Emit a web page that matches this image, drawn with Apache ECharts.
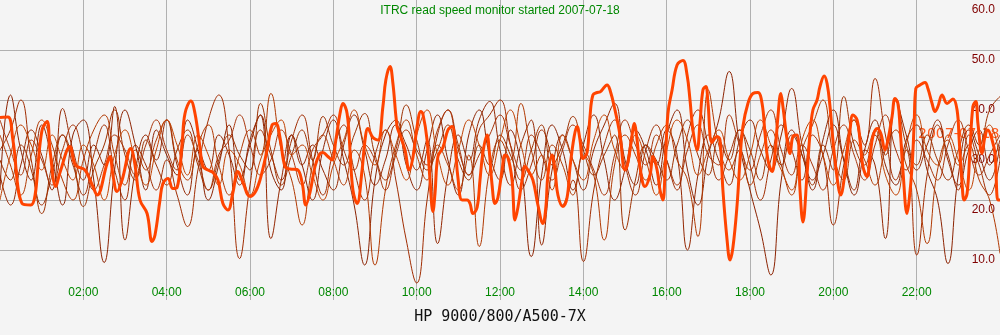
<!DOCTYPE html>
<html>
<head>
<meta charset="utf-8">
<script src="https://cdn.jsdelivr.net/npm/echarts@6.0.0/dist/echarts.min.js"></script>
<style>
  html, body { margin: 0; padding: 0; background: #f4f4f4; }
  #chart { width: 1000px; height: 335px; }
</style>
</head>
<body>
<div id="chart"></div>
<script>
// Read throughput (MB/s) over one day, sampled every 15 minutes for earlier runs
const STEP_HOURS = 0.25;
const hourTicks = [2, 4, 6, 8, 10, 12, 14, 16, 18, 20, 22];
const speedTicks = [10, 20, 30, 40, 50, 60];

const runA = [22,41,30,24,35,28,19,33, 36,24,7.5,26,38,31,22,34, 29,25,36,30,20,27,35,24, 31,37,26,22,33,27,20,30,
  36,28,19,7,24,33,36,27, 22,30,37,28,21,33,38,29, 24,34,27,8.7,25,35,30,22, 31,37,28,20,26,34,30,23,
  33,38,26,19,29,36,45.7,31, 22,14,5,24,34,29,22,32, 38,28,21,30,36,27,23,32, 35,26,20,7.3,25,34,29,24, 31];
const runB = [30,34,40,28,19,25,33,27, 21,29,35,26,20,31,27,22, 28,21,14.7,26,36,41,30,8.3, 23,34,29,24,32,37,28,21,
  30,35,26,20,29,34,24,12, 3.4,20,33,38,30,25,34,37, 40,31,22,27,34,28,19,24, 7.7,22,31,36,27,21,30,35,
  28,22,33,38,31,24,29,34, 27,20,28,35,30,24,33,29, 15,27,36,31,44.3,33,24,30, 9,25,35,29,22,33,27,21, 28];
const runC = [25,19,27,34,29,22,38.3,30, 24,31,27,38.7,12,26,33,28, 36,27,21,30,26,33,29,23, 32,37,12.3,24,33,27,31,26,
  22,31,37,30,23,28,35,31, 26,32,11.3,25,33,28,36,39.7, 30,23,31,36,11,26,33,28, 22,30,35,39.3,28,23,31,27,
  34,29,10,25,33,28,23,32, 36,30,26,33,42.3,31,24,29, 35,28,22,30,27,12.3,40,33, 26,31,36,28,23,30,34,27, 32];
const runD = [33,27,21,29,36,31,24,20, 28,34,37,29,23,30,26,32, 36,28,24,31,35,27,21,29, 34,29,41.3,30,24,15,27,33,
  28,23,30,25,7,22,31,36, 29,24,31,27,22,29,10.7,26, 32,28,39.3,30,24,31,27,21, 29,25,12,27,33,29,24,31,
  35,28,24,12.7,42,31,26,30, 23,29,34,27,21,30,35,40, 29,24,32,28,23,30,34,27, 22,11.3,26,32,27,31,24,20, 9.3];
const runE = [28,24,31,26,17.3,27,33,28, 18.7,26,31,38,29,24,32,27, 23,30,34,27,22,28,33,29, 26,39.3,30,23,29,34,28,36.7,
  31,27,33,37.3,29,24,30,39, 32,26,30,35,28,24,31,27, 33,29,24,30,35,27,31,36.7, 30,25,29,33,14,24,31,28,
  24,31,36,29,25,32,28,34, 30,24,31,27,33,29,23,31, 26,40.7,31,27,33,29,40.3,31, 27,33,28,24,30,35,31,38, 40.7];
const runF = [36,30,25,32,28,23,30,35, 29,22,27,33,30,25,31,36, 30,26,33,28,22,29,32,37, 31,25,28,34,29,23,30,33,
  37,30,26,31,28,22,29,34, 30,27,34,38,31,25,29,33, 37,31,26,33,29,24,30,35, 31,26,21,29,36,31,27,33,
  28,23,30,35,29,27,37,31, 26,33,38,30,25,31,27,22, 30,35,29,24,31,37,30,26, 32,28,24,31,36,30,25,29, 33];
const runG = [20,29,35,31,26,33,28,24, 31,27,20,29,34,28,23,30, 36,31,25,33,29,23,30,27, 21,28,33,36,29,31,25,20,
  27,32,38,31,27,34,29,24, 33,38,29,23,30,36,31,25, 32,38,31,25,29,22,33,28, 24,32,37,30,26,33,28,21,
  30,36,32,25,30,34,28,24, 29,36,31,26,22,32,36,29, 23,30,36,29,34,25,21,31, 37,30,27,33,28,22,30,35, 28];

// Today's run: [hour, MB/s]
const todayRun = [
  [0,36.5],[0.19,36.6],[0.31,32],[0.53,19.3],[0.74,19],[1.01,34],[1.13,35.7],[1.2,30],[1.34,22.7],[1.44,25.5],
  [1.68,30.7],[1.78,27.5],[1.85,26.7],[2.04,26],[2.23,22.7],[2.33,21],[2.57,27.3],[2.64,28.7],[2.71,25],[2.81,21.7],
  [2.93,24],[3.14,30.3],[3.24,27],[3.36,20],[3.53,17.3],[3.65,11.7],[3.72,13],[3.84,20],[3.91,23.3],[4.03,24.3],
  [4.15,22.3],[4.25,22.5],[4.37,31.3],[4.44,37.3],[4.58,39.8],[4.68,37.3],[4.8,30.5],[4.87,26.7],[4.99,26],[5.11,25.5],
  [5.23,24],[5.35,19.3],[5.47,18],[5.59,21.5],[5.71,25.7],[5.83,23.5],[6.0,20.7],[6.12,21.5],[6.24,24],[6.41,30],
  [6.53,35],[6.62,35.3],[6.72,32.5],[6.84,26.7],[6.96,26.2],[7.13,26.1],[7.25,23.5],[7.34,19],[7.44,21.5],[7.56,26.7],
  [7.68,29.3],[7.75,29.5],[7.87,28.7],[7.97,28],[8.06,32],[8.16,37.3],[8.23,39.3],[8.33,37.3],[8.4,30],[8.47,22],
  [8.57,19.3],[8.69,26],[8.76,32],[8.83,34.3],[8.95,32.5],[9.07,32],[9.19,38.7],[9.26,44],[9.36,46.7],[9.43,43.3],
  [9.53,34.7],[9.6,33],[9.72,30],[9.82,26],[9.91,28.5],[10.01,34.7],[10.1,37.7],[10.15,37.2],[10.25,32],[10.32,24],
  [10.39,17.7],[10.44,21.3],[10.51,28.7],[10.63,30.5],[10.75,34],[10.85,34.7],[10.92,31],[10.99,24.5],[11.09,20],[11.21,20],
  [11.28,19.3],[11.35,17.3],[11.45,18.5],[11.52,24],[11.59,29.5],[11.69,33],[11.74,30],[11.81,23],[11.88,19.3],[11.95,20.5],
  [12.05,26],[12.12,29],[12.19,28.5],[12.29,24],[12.36,16],[12.43,18.5],[12.53,24],[12.6,26.7],[12.67,26],[12.79,24],
  [12.91,19],[13.03,15.3],[13.1,18.5],[13.15,25],[13.25,29],[13.32,26],[13.39,21],[13.51,18.7],[13.61,20.5],[13.68,26.5],
  [13.78,32.7],[13.85,34.7],[13.92,32],[13.99,28.3],[14.09,29.5],[14.16,36.7],[14.23,41],[14.33,41.5],[14.4,41.6],[14.57,43],
  [14.64,42],[14.76,38],[14.88,33],[15.0,26],[15.07,27.5],[15.17,33],[15.22,35.3],[15.29,32],[15.36,26.5],[15.48,22.7],
  [15.6,25],[15.67,28.7],[15.77,26],[15.84,22],[15.91,20],[15.96,25.5],[16.03,37.3],[16.13,42],[16.25,47],[16.39,47.9],
  [16.49,45],[16.56,40],[16.63,34],[16.73,30],[16.8,35.5],[16.87,42],[16.94,42.7],[16.99,39.5],[17.09,31.5],[17.21,32.7],
  [17.28,32],[17.35,22],[17.45,12],[17.52,8],[17.59,10.5],[17.69,19],[17.76,28],[17.83,34.7],[17.95,39.3],[18.07,41.3],
  [18.19,41.5],[18.29,39.3],[18.36,33.3],[18.43,28],[18.53,25.7],[18.6,29.3],[18.67,36.7],[18.74,41.3],[18.79,38.7],[18.89,32],
  [18.96,29.3],[19.03,32.7],[19.13,33],[19.2,22],[19.27,15.6],[19.37,25.3],[19.44,33.3],[19.51,38],[19.61,40],[19.68,42.7],
  [19.78,44.8],[19.85,43.3],[19.92,38.7],[19.99,32],[20.09,24.5],[20.18,21],[20.23,22.5],[20.33,29.3],[20.4,34],[20.47,37],
  [20.57,36],[20.64,32],[20.71,26.7],[20.81,24.7],[20.88,28.7],[20.95,32.7],[21.05,34.3],[21.14,33.3],[21.24,30],[21.31,32],
  [21.41,36.7],[21.48,40.3],[21.55,39.3],[21.6,34.7],[21.67,26],[21.77,17.3],[21.82,20],[21.89,26.7],[21.94,35.3],[21.98,42.3],
  [22.08,43],[22.2,43.5],[22.27,42.3],[22.37,39.3],[22.44,37.7],[22.51,38.7],[22.61,41],[22.73,39.3],[22.87,40.2],[22.97,38],
  [23.02,32],[23.09,23.3],[23.14,20],[23.21,21.3],[23.28,30],[23.35,38.7],[23.42,39.7],[23.47,35.3],[23.57,29.3],[23.64,32.7],
  [23.71,34],[23.81,32],[23.88,29.3],[23.95,20],[24,20]
];

const earlierRuns = [runA, runB, runC, runD, runE, runF, runG];
const earlierColors = ['#8b2200', '#a02c00', '#932600', '#b03800', '#9c3000', '#a8340a', '#bf4000'];

const chart = echarts.init(document.getElementById('chart'), null, { renderer: 'canvas' });

const toPairs = vals => vals.map((v, i) => [i * STEP_HOURS, v]);
const pad2 = n => (n < 10 ? '0' : '') + n;

const series = earlierRuns.map((vals, k) => ({
  type: 'line',
  name: 'run' + (k + 1),
  data: toPairs(vals),
  smooth: 0.45,
  showSymbol: false,
  lineStyle: { width: 1, color: earlierColors[k] },
  z: 3
}));
series.push({
  type: 'line',
  name: '2007-07-18',
  data: todayRun,
  smooth: 0.4,
  showSymbol: false,
  lineStyle: { width: 3, color: '#ff4400' },
  z: 4
});

chart.setOption({
  animation: false,
  backgroundColor: '#f4f4f4',
  title: {
    text: 'ITRC read speed monitor started 2007-07-18',
    left: 'center',
    top: 0,
    textStyle: { color: '#008800', fontSize: 12, fontWeight: 'normal', fontFamily: 'Liberation Sans' }
  },
  grid: { left: 0, right: 0, top: 0, bottom: 35 },
  xAxis: {
    type: 'value',
    min: 0,
    max: 24,
    interval: 2,
    axisLine: { show: false },
    axisTick: { show: false },
    splitLine: { show: true, showMinLine: false, showMaxLine: false, lineStyle: { color: '#b0b0b0', width: 1 } },
    axisLabel: {
      inside: true,
      margin: 1,
      showMinLabel: false,
      showMaxLabel: false,
      color: '#008800',
      fontSize: 12,
      fontFamily: 'Liberation Sans',
      formatter: v => (hourTicks.indexOf(v) >= 0 ? pad2(v) + ':00' : '')
    }
  },
  yAxis: {
    type: 'value',
    position: 'right',
    min: 0,
    max: 60,
    interval: 10,
    axisLine: { show: false },
    axisTick: { show: false },
    splitLine: { show: true, showMinLine: false, showMaxLine: false, lineStyle: { color: '#b0b0b0', width: 1 } },
    axisLabel: {
      inside: true,
      margin: 5,
      showMinLabel: false,
      verticalAlign: 'top',
      padding: [4, 0, 0, 0],
      color: '#800000',
      fontSize: 12,
      fontFamily: 'Liberation Sans',
      formatter: v => (speedTicks.indexOf(v) >= 0 ? v.toFixed(1) : '')
    }
  },
  graphic: [
    {
      type: 'text',
      left: 918,
      top: 127,
      z: 1,
      style: { text: '2007-07-18', fill: '#ff5a1e', font: '14px "DejaVu Sans"' }
    },
    {
      type: 'text',
      x: 500,
      y: 317,
      z: 5,
      style: {
        text: 'HP 9000/800/A500-7X',
        fill: '#111111',
        font: '15px "DejaVu Sans Mono"',
        align: 'center',
        verticalAlign: 'middle'
      }
    }
  ],
  series: series
});
</script>
</body>
</html>
